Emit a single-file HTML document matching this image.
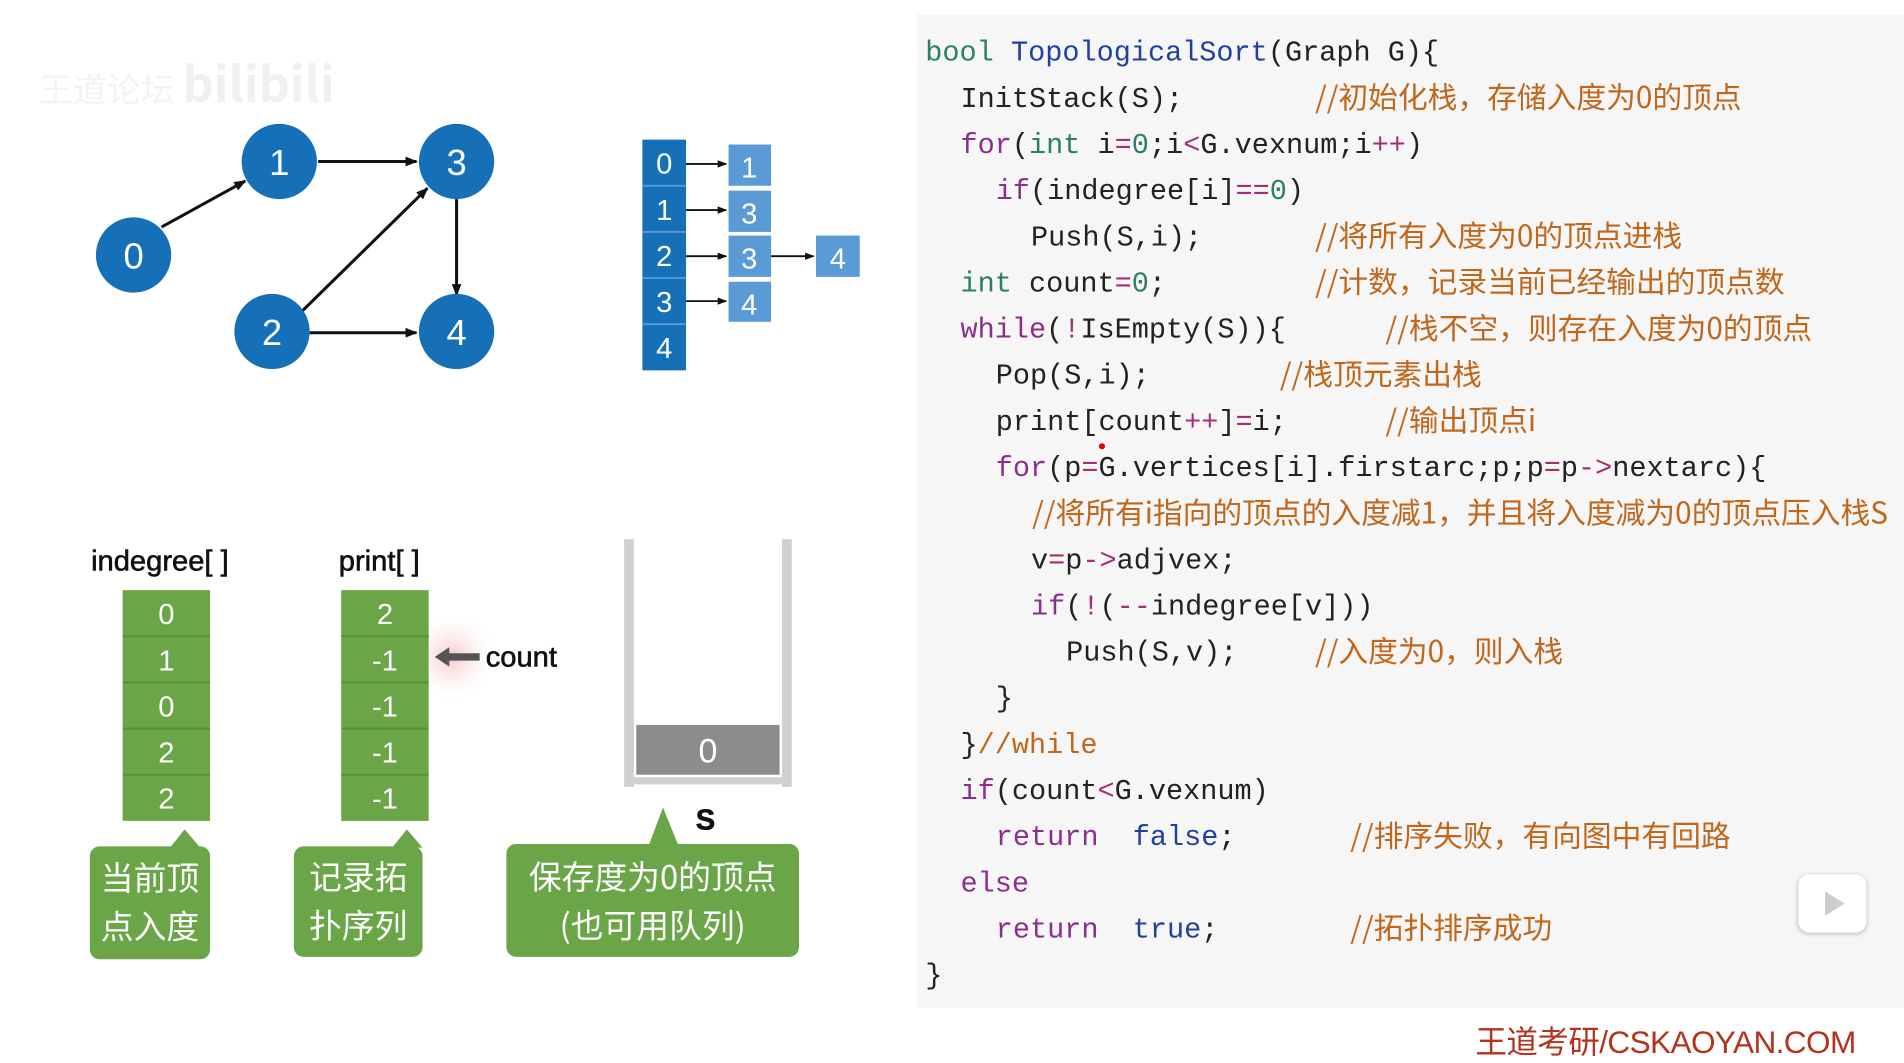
<!DOCTYPE html>
<html><head><meta charset="utf-8">
<style>
html,body{margin:0;padding:0;background:#fff;overflow:hidden;width:1904px;height:1057px}
#s{position:absolute;left:0;top:0;width:1568px;height:871px;transform:scale(1.2143);transform-origin:0 0;font-family:"Liberation Sans","Noto Sans CJK SC",sans-serif}
.a{position:absolute}
.code{position:absolute;left:755px;top:12px;width:813px;height:818px;background:#f6f6f6}
.ln{position:absolute;font-family:"Liberation Mono","Noto Sans CJK SC",monospace;font-size:23.5px;color:#222;white-space:pre;line-height:28px}
.k{color:#8b2f8b}.t{color:#2a8060}.f{color:#2140a0}.c{color:#c0671c;font-family:"Noto Sans CJK SC","Liberation Mono",sans-serif;font-size:24.5px}.n{color:#2a8060}.o{color:#a0307a}
.cell{position:absolute;color:#fff;text-align:center;font-size:24px}
.call{position:absolute;background:#6aa548;border-radius:8px;color:#fff;font-size:27px;text-align:center;line-height:40px;font-family:"Noto Sans CJK SC",sans-serif}
</style></head><body><div id="s">
<div class="a" style="left:32px;top:38px;font-size:28px;color:#f3f3f3;font-family:'Noto Sans CJK SC',sans-serif">王道论坛 <b style="font-size:40px;color:#f0f0f0">bilibili</b></div>

<svg class="a" style="left:0;top:0" width="740" height="871">
<defs><marker id="ar" markerWidth="10" markerHeight="10" refX="9" refY="5" orient="auto" markerUnits="userSpaceOnUse"><path d="M0,1 L10,5 L0,9 z" fill="#111"/></marker>
<marker id="ar2" markerWidth="8" markerHeight="8" refX="7" refY="4" orient="auto" markerUnits="userSpaceOnUse"><path d="M0,1 L8,4 L0,7 z" fill="#111"/></marker></defs>
<g stroke="#111" stroke-width="2.5" fill="none">
<line x1="133" y1="187" x2="202" y2="149" marker-end="url(#ar)"/>
<line x1="262" y1="133" x2="343" y2="133" marker-end="url(#ar)"/>
<line x1="249" y1="256" x2="352" y2="155" marker-end="url(#ar)"/>
<line x1="376" y1="164" x2="376" y2="243" marker-end="url(#ar)"/>
<line x1="255" y1="274" x2="343" y2="274" marker-end="url(#ar)"/>
</g>
<g fill="#1570b8"><ellipse cx="110" cy="210" rx="31" ry="31"/><ellipse cx="230" cy="133" rx="31" ry="31"/><ellipse cx="376" cy="133" rx="31" ry="31"/><ellipse cx="224" cy="273" rx="31" ry="31"/><ellipse cx="376" cy="273" rx="31" ry="31"/></g>
<g fill="#fff" font-size="30" text-anchor="middle" font-family="Liberation Sans"><text x="110" y="221">0</text><text x="230" y="144">1</text><text x="376" y="144">3</text><text x="224" y="284">2</text><text x="376" y="284">4</text></g>
<rect x="529" y="115" width="36" height="190" fill="#1570b8"/>
<g stroke="#5a9ad2" stroke-width="1.5"><line x1="529" y1="153" x2="565" y2="153"/><line x1="529" y1="191" x2="565" y2="191"/><line x1="529" y1="229" x2="565" y2="229"/><line x1="529" y1="267" x2="565" y2="267"/></g>
<g fill="#5b9bd5"><rect x="600" y="119" width="35" height="34"/><rect x="600" y="157" width="35" height="34"/><rect x="600" y="194" width="35" height="34"/><rect x="600" y="232" width="35" height="33"/><rect x="672" y="194" width="36" height="34"/></g>
<g stroke="#111" stroke-width="1.5"><line x1="565" y1="135" x2="598" y2="135" marker-end="url(#ar2)"/><line x1="565" y1="173" x2="598" y2="173" marker-end="url(#ar2)"/><line x1="565" y1="211" x2="598" y2="211" marker-end="url(#ar2)"/><line x1="565" y1="248" x2="598" y2="248" marker-end="url(#ar2)"/><line x1="635" y1="211" x2="670" y2="211" marker-end="url(#ar2)"/></g>
<g fill="#fff" font-size="24" text-anchor="middle" font-family="Liberation Sans"><text x="547" y="143">0</text><text x="547" y="181">1</text><text x="547" y="219">2</text><text x="547" y="257">3</text><text x="547" y="295">4</text>
<text x="617" y="146">1</text><text x="617" y="184">3</text><text x="617" y="221">3</text><text x="617" y="259">4</text><text x="690" y="221">4</text></g>
<defs><radialGradient id="gl"><stop offset="0" stop-color="#f6b8b8" stop-opacity=".8"/><stop offset="1" stop-color="#fff" stop-opacity="0"/></radialGradient></defs>
<circle cx="372" cy="541" r="38" fill="url(#gl)"/>
<g fill="#6aa548"><rect x="101" y="486" width="72" height="190"/><rect x="281" y="486" width="72" height="190"/></g>
<g stroke="#5a8c3c" stroke-width="1.5"><line x1="101" y1="524" x2="173" y2="524"/><line x1="101" y1="562" x2="173" y2="562"/><line x1="101" y1="600" x2="173" y2="600"/><line x1="101" y1="638" x2="173" y2="638"/><line x1="281" y1="524" x2="353" y2="524"/><line x1="281" y1="562" x2="353" y2="562"/><line x1="281" y1="600" x2="353" y2="600"/><line x1="281" y1="638" x2="353" y2="638"/></g>
<g fill="#fff" font-size="24" text-anchor="middle" font-family="Liberation Sans"><text x="137" y="514">0</text><text x="137" y="552">1</text><text x="137" y="590">0</text><text x="137" y="628">2</text><text x="137" y="666">2</text>
<text x="317" y="514">2</text><text x="317" y="552">-1</text><text x="317" y="590">-1</text><text x="317" y="628">-1</text><text x="317" y="666">-1</text></g>
<path d="M358,541 L370,533 L370,538 L395,538 L395,544 L370,544 L370,549 z" fill="#555"/>
<g fill="#111" font-size="24" font-family="Liberation Sans" stroke="#111" stroke-width="0.5"><text x="400" y="549">count</text><text x="75" y="470">indegree[ ]</text><text x="279" y="470">print[ ]</text><text x="573" y="683" font-weight="bold">S</text></g>
<g fill="#d0d0d0"><rect x="514" y="444" width="8" height="204"/><rect x="644" y="444" width="8" height="204"/><rect x="522" y="640" width="122" height="6"/></g>
<rect x="524" y="597" width="118" height="41" fill="#8c8c8c"/>
<text x="583" y="628" fill="#fff" font-size="28" text-anchor="middle" font-family="Liberation Sans">0</text>
<g fill="#6aa548"><path d="M140,698 L152,683 L165,698 z"/><path d="M323,698 L335,683 L348,698 z"/><path d="M534,697 L546,665 L559,697 z"/></g>
</svg>
<div class="call" style="left:74px;top:697px;width:99px;height:93px;padding-top:5px;box-sizing:border-box">当前顶<br>点入度</div>
<div class="call" style="left:242px;top:697px;width:106px;height:91px;padding-top:4px;box-sizing:border-box">记录拓<br>扑序列</div>
<div class="call" style="left:417px;top:695px;width:241px;height:93px;padding-top:6px;box-sizing:border-box">保存度为0的顶点<br>(也可用队列)</div>

<div class="code"></div>
<div class="ln" style="left:762px;top:31px"><span class="t">bool</span> <span class="f">TopologicalSort</span>(Graph G){</div>
<div class="ln" style="left:791px;top:69px">InitStack(S);</div><div class="ln c" style="left:1083px;top:66px">//初始化栈，存储入度为0的顶点</div>
<div class="ln" style="left:791px;top:107px"><span class="k">for</span>(<span class="t">int</span> i<span class="o">=</span><span class="n">0</span>;i<span class="o">&lt;</span>G.vexnum;i<span class="o">++</span>)</div>
<div class="ln" style="left:820px;top:145px"><span class="k">if</span>(indegree[i]<span class="o">==</span><span class="n">0</span>)</div>
<div class="ln" style="left:849px;top:183px">Push(S,i);</div><div class="ln c" style="left:1083px;top:180px">//将所有入度为0的顶点进栈</div>
<div class="ln" style="left:791px;top:221px"><span class="t">int</span> count<span class="o">=</span><span class="n">0</span>;</div><div class="ln c" style="left:1083px;top:218px">//计数，记录当前已经输出的顶点数</div>
<div class="ln" style="left:791px;top:259px"><span class="k">while</span>(<span class="o">!</span>IsEmpty(S)){</div><div class="ln c" style="left:1141px;top:256px">//栈不空，则存在入度为0的顶点</div>
<div class="ln" style="left:820px;top:297px">Pop(S,i);</div><div class="ln c" style="left:1054px;top:294px">//栈顶元素出栈</div>
<div class="ln" style="left:820px;top:335px">print[count<span class="o">++</span>]<span class="o">=</span>i;</div><div class="ln c" style="left:1141px;top:332px">//输出顶点i</div>
<div class="a" style="left:905px;top:365px;width:5px;height:5px;border-radius:3px;background:#d00"></div>
<div class="ln" style="left:820px;top:373px"><span class="k">for</span>(p<span class="o">=</span>G.vertices[i].firstarc;p;p<span class="o">=</span>p<span class="o">-&gt;</span>nextarc){</div>
<div class="ln c" style="left:850px;top:408px">//将所有i指向的顶点的入度减1，并且将入度减为0的顶点压入栈S</div>
<div class="ln" style="left:849px;top:449px">v<span class="o">=</span>p<span class="o">-&gt;</span>adjvex;</div>
<div class="ln" style="left:849px;top:487px"><span class="k">if</span>(<span class="o">!</span>(<span class="o">--</span>indegree[v]))</div>
<div class="ln" style="left:878px;top:525px">Push(S,v);</div><div class="ln c" style="left:1083px;top:522px">//入度为0，则入栈</div>
<div class="ln" style="left:820px;top:563px">}</div>
<div class="ln" style="left:791px;top:601px">}<span class="c" style="font-family:'Liberation Mono',monospace;font-size:23.5px">//while</span></div>
<div class="ln" style="left:791px;top:639px"><span class="k">if</span>(count<span class="o">&lt;</span>G.vexnum)</div>
<div class="ln" style="left:820px;top:677px"><span class="k">return</span>  <span class="f">false</span>;</div><div class="ln c" style="left:1112px;top:674px">//排序失败，有向图中有回路</div>
<div class="ln" style="left:791px;top:715px"><span class="k">else</span></div>
<div class="ln" style="left:820px;top:753px"><span class="k">return</span>  <span class="f">true</span>;</div><div class="ln c" style="left:1112px;top:750px">//拓扑排序成功</div>
<div class="ln" style="left:762px;top:791px">}</div>
<div class="a" style="left:1481px;top:720px;width:56px;height:48px;background:#fff;border-radius:9px;box-shadow:0 1px 4px rgba(0,0,0,.25)"><div style="position:absolute;left:22px;top:14px;width:0;height:0;border-left:16px solid #ccc;border-top:10px solid transparent;border-bottom:10px solid transparent"></div></div>
<div class="a" style="left:1215px;top:838px;font-size:26px;color:#b3331f;font-family:'Liberation Sans','Noto Sans CJK SC',sans-serif;letter-spacing:-0.5px">王道考研/CSKAOYAN.COM</div>
</div></body></html>
